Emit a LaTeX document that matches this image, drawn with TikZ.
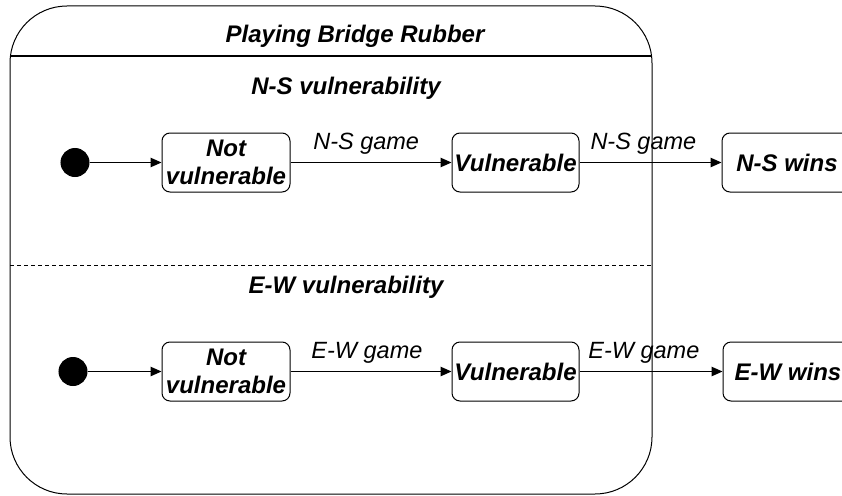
\documentclass[tikz,border=0pt]{standalone}
\usepackage{fontspec}
\setmainfont{Liberation Sans}
\usetikzlibrary{arrows.meta}
\begin{document}
\begin{tikzpicture}[x=1pt,y=-1pt,line width=1pt,
  >={Triangle[length=11pt,width=9.5pt]},
  stbox/.style={draw, rounded corners=8pt, minimum height=59pt, inner sep=0pt, align=center,
    font=\fontsize{24}{28}\selectfont\bfseries\itshape},
  initdot/.style={circle, fill=black, draw=black, minimum size=28pt, inner sep=0pt},
  lbl/.style={font=\fontsize{23.5}{28}\selectfont\itshape, anchor=base, yshift=13.5pt, inner sep=0pt},
  ttl/.style={font=\fontsize{24}{28}\selectfont\bfseries\itshape, anchor=base, inner sep=0pt}
]
\useasboundingbox (0,0) rectangle (842,495);
% outer composite state
\draw[rounded corners=57pt] (10,6) rectangle (652,494);
\coordinate (dl) at (10,56);
\coordinate (dr) at (652,56);
\draw (dl) -- (dr);
\coordinate (sl) at (10,265);
\coordinate (sr) at (652,265);
\draw[dash pattern=on 4pt off 3pt] (sl) -- (sr);
\node[ttl] (title) at (355,42) {Playing Bridge Rubber};
\node[ttl] (ns) at (346,94) {N-S vulnerability};
\node[ttl] (ew) at (346,293) {E-W vulnerability};
% N-S row
\node[initdot] (i1) at (75,162.5) {};
\node[stbox, minimum width=128pt] (nv1) at (226,162.5) {Not\\vulnerable};
\node[stbox, minimum width=127pt] (v1) at (515.5,162.5) {Vulnerable};
\node[stbox, minimum width=130pt] (w1) at (787,162.5) {N-S wins};
\draw[->] (i1) -- (nv1);
\draw[->] (nv1) -- node[lbl, pos=.47] (l1) {N-S game} (v1);
\draw[->] (v1) -- node[lbl, pos=.45] (l2) {N-S game} (w1);
% E-W row
\node[initdot] (i2) at (73,371.5) {};
\node[stbox, minimum width=128pt] (nv2) at (226,371.5) {Not\\vulnerable};
\node[stbox, minimum width=127pt] (v2) at (515.5,371.5) {Vulnerable};
\node[stbox, minimum width=130pt] (w2) at (788,371.5) {E-W wins};
\draw[->] (i2) -- (nv2);
\draw[->] (nv2) -- node[lbl, pos=.475] (l3) {E-W game} (v2);
\draw[->] (v2) -- node[lbl, pos=.45] (l4) {E-W game} (w2);
\end{tikzpicture}
\end{document}
